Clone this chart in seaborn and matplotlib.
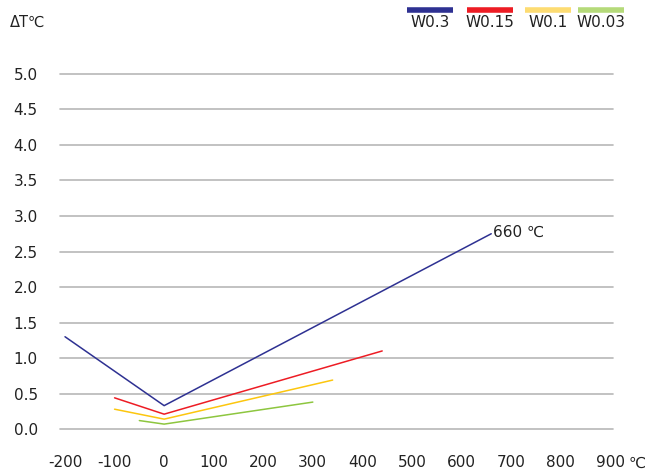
import numpy as np
import pandas as pd
import matplotlib
matplotlib.use("Agg")
import matplotlib.pyplot as plt
import seaborn as sns

# data
series = ['W0.3', 'W0.15', 'W0.1', 'W0.03']
temp_w03 = [-200, 0, 660]
dt_w03 = [1.30, 0.33, 2.75]
temp_w015 = [-100, 0, 440]
dt_w015 = [0.44, 0.21, 1.10]
temp_w01 = [-100, 0, 340]
dt_w01 = [0.28, 0.14, 0.69]
temp_w003 = [-50, 0, 300]
dt_w003 = [0.12, 0.07, 0.38]
x_ticks = [-200, -100, 0, 100, 200, 300, 400, 500, 600, 700, 800, 900]
y_ticks = [0.0, 0.5, 1.0, 1.5, 2.0, 2.5, 3.0, 3.5, 4.0, 4.5, 5.0]

line_colors = ['#2e3192', '#ed1c24', '#fcc60e', '#8dc63f']
legend_colors = ['#2e3192', '#ed1c24', '#fddc72', '#b5da7a']

df = pd.concat([
    pd.DataFrame({'temp': t, 'dt': d, 'grade': s})
    for t, d, s in zip([temp_w03, temp_w015, temp_w01, temp_w003],
                       [dt_w03, dt_w015, dt_w01, dt_w003], series)
], ignore_index=True)

sns.set_style('white')
plt.rcParams['font.family'] = ['DejaVu Sans']

fig = plt.figure(figsize=(6.6, 4.71), dpi=100)
ax = fig.add_axes([0.091, 0.089, 0.838, 0.754])

sns.lineplot(data=df, x='temp', y='dt', hue='grade', palette=line_colors,
             hue_order=series, sort=False, estimator=None, legend=False,
             linewidth=1.1, ax=ax)

ax.set_xlim(-210, 906)
ax.set_ylim(0, 5.0)
ax.set_xticks(x_ticks)
ax.set_xticklabels([str(v) for v in x_ticks])
ax.set_yticks(y_ticks)
ax.set_yticklabels([f'{v:.1f}' for v in y_ticks])
ax.yaxis.grid(True, color='#b8b8b8', linewidth=1.2)
ax.xaxis.grid(False)
ax.set_axisbelow(True)
for sp in ax.spines.values():
    sp.set_visible(False)
ax.tick_params(axis='both', length=0, labelsize=11, colors='#222222')
ax.tick_params(axis='y', pad=16)
ax.tick_params(axis='x', pad=19)
ax.set_xlabel('')
ax.set_ylabel('')
for gl in ax.get_ygridlines():
    gl.set_clip_on(False)

ax.annotate('660 ℃', xy=(temp_w03[-1], dt_w03[-1]), xytext=(1.5, 1),
            textcoords='offset points', ha='left', va='center',
            fontsize=11, color='#222222')

fig.text(0.015, 0.953, 'ΔT℃', fontsize=10.5, color='#222222', va='center')
fig.text(0.952, 0.017, '℃', fontsize=11, color='#222222', va='center')

# legend: colour bar above each label
leg_x = [0.652, 0.742, 0.83, 0.91]
for name, col, x0 in zip(series, legend_colors, leg_x):
    fig.add_artist(plt.Line2D([x0 - 0.035, x0 + 0.035], [0.979, 0.979],
                              color=col, linewidth=4, solid_capstyle='butt'))
    fig.text(x0, 0.953, name, fontsize=11, color='#222222',
             ha='center', va='center')

fig.savefig('out.png', dpi=100)
